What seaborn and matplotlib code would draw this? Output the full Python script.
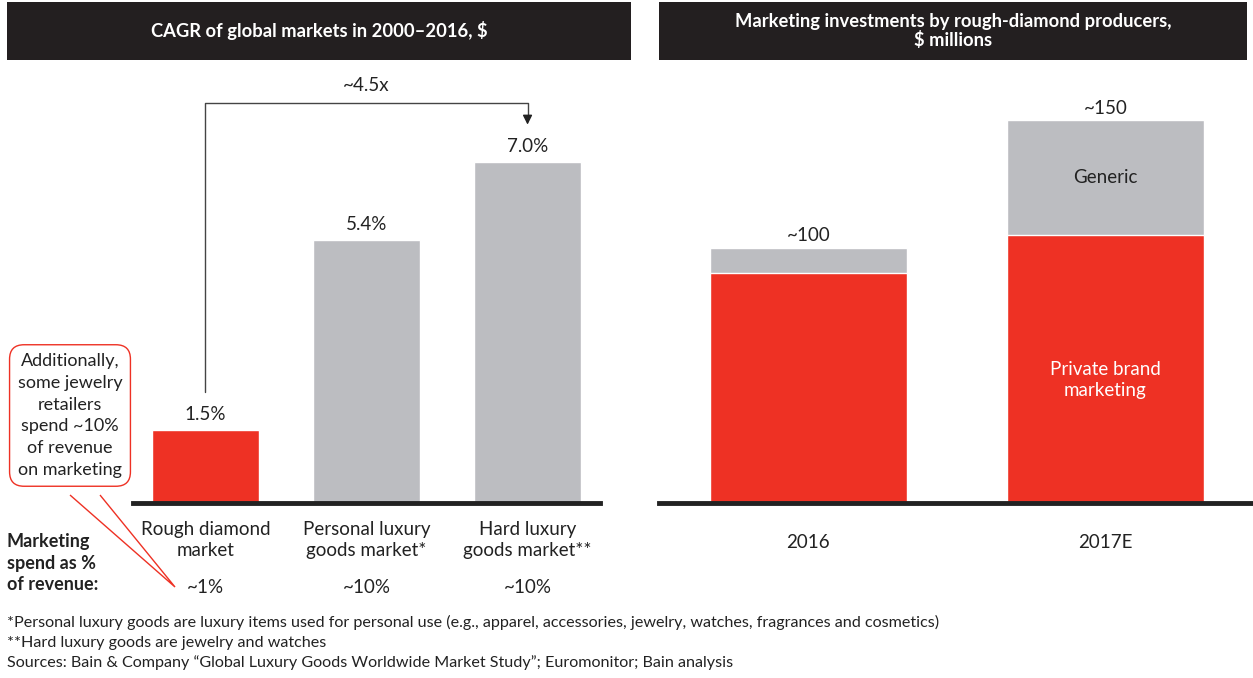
import matplotlib.pyplot as plt
import seaborn as sns
from matplotlib.patches import Rectangle, Polygon

RED = "#EE3124"
GRAY = "#BCBDC1"
DARK = "#231F20"

# left panel data
markets = ["Rough diamond\nmarket", "Personal luxury\ngoods market*", "Hard luxury\ngoods market**"]
cagr = [1.5, 5.4, 7.0]
cagr_labels = ["1.5%", "5.4%", "7.0%"]
spend_labels = ["~1%", "~10%", "~10%"]

# right panel data
years = ["2016", "2017E"]
private_brand = [90, 105]
generic = [10, 45]
total_labels = ["~100", "~150"]

W, H = 1253, 678
FS = 13.5


def fx(x):
    return x / W


def fy(y):
    return 1 - y / H


sns.set_theme(style="white")
plt.rcParams["font.family"] = ["Lato", "DejaVu Sans"]
fig = plt.figure(figsize=(W / 100, H / 100), dpi=100)

# title bars
for x0, x1, title in [(7, 631, "CAGR of global markets in 2000\u20132016, $"),
                      (659, 1247, "Marketing investments by rough-diamond producers,\n$ millions")]:
    fig.add_artist(Rectangle((fx(x0), fy(60)), fx(x1 - x0), 58 / H, transform=fig.transFigure,
                             facecolor=DARK, edgecolor="none"))
    fig.text(fx((x0 + x1) / 2), fy(31), title, ha="center", va="center", color="white",
             fontsize=13.2, fontweight="bold", linespacing=1.1)

# left chart
ax1 = fig.add_axes([fx(133), fy(503), fx(600 - 133), (503 - 70) / H])
sns.barplot(x=markets, y=cagr, hue=markets, palette=[RED, GRAY, GRAY], legend=False,
            width=0.66, saturation=1, ax=ax1)
ax1.set_xlim(-0.45, 2.45)
ax1.set_ylim(0, 8.9)
for i, (v, lab) in enumerate(zip(cagr, cagr_labels)):
    ax1.text(i, v + 0.15, lab, ha="center", va="bottom", fontsize=FS, color="#222222")
for i, lab in enumerate(spend_labels):
    ax1.annotate(lab, xy=(i, -0.194), xycoords=("data", "axes fraction"), ha="center",
                 va="center", fontsize=FS, color="#222222", annotation_clip=False)

# ~4.5x bracket
ax1.plot([0, 0, 2, 2], [2.28, 8.23, 8.23, 7.9], color="#444444", lw=1, clip_on=False)
ax1.annotate("", xy=(2, 7.72), xytext=(2, 8.0),
             arrowprops=dict(arrowstyle="-|>", color="#222222", lw=1, mutation_scale=14))
ax1.text(1, 8.58, "~4.5x", ha="center", va="center", fontsize=FS, color="#222222")

# right chart
ax2 = fig.add_axes([fx(659), fy(503), fx(1253 - 659), (503 - 70) / H])
totals = [p + g for p, g in zip(private_brand, generic)]
sns.barplot(x=years, y=totals, color=GRAY, width=0.663, saturation=1, ax=ax2)
sns.barplot(x=years, y=private_brand, color=RED, width=0.663, saturation=1, ax=ax2,
            edgecolor="white", linewidth=1)
ax2.set_xlim(-0.503, 1.497)
ax2.set_ylim(0, 169.8)
for i, (t, lab) in enumerate(zip(totals, total_labels)):
    ax2.text(i, t + 1.5, lab, ha="center", va="bottom", fontsize=FS, color="#222222")
ax2.text(1, private_brand[1] + generic[1] / 2, "Generic", ha="center", va="center",
         fontsize=FS, color="#222222")
ax2.text(1, private_brand[1] * 0.46, "Private brand\nmarketing", ha="center", va="center",
         fontsize=FS, color="white", linespacing=1.25)

for ax in (ax1, ax2):
    sns.despine(ax=ax, left=True)
    ax.spines["bottom"].set_linewidth(3.5)
    ax.spines["bottom"].set_color("#222222")
    ax.set_yticks([])
    ax.set_ylabel("")
    ax.set_xlabel("")
    ax.tick_params(axis="x", length=0, pad=13, labelsize=FS, colors="#222222")
    ax.patch.set_alpha(0)
for lab in ax1.get_xticklabels():
    lab.set_linespacing(1.3)
ax2.tick_params(axis="x", pad=22)

# marketing spend row header
fig.text(fx(7), fy(563), "Marketing\nspend as %\nof revenue:", ha="left", va="center",
         fontsize=13, fontweight="bold", color="#222222", linespacing=1.3)

# callout
fig.text(fx(70), fy(415.5), "Additionally,\nsome jewelry\nretailers\nspend ~10%\nof revenue\non marketing",
         ha="center", va="center", fontsize=13, color="#222222", linespacing=1.45,
         bbox=dict(boxstyle="round,pad=0.45,rounding_size=0.8", facecolor="white", edgecolor=RED, lw=1))
fig.add_artist(Polygon([(fx(70), fy(495)), (fx(175), fy(587)), (fx(100), fy(495))], closed=False,
                       transform=fig.transFigure, facecolor="white", edgecolor=RED, lw=1))

# footnotes
notes = ["*Personal luxury goods are luxury items used for personal use (e.g., apparel, accessories, jewelry, watches, fragrances and cosmetics)",
         "**Hard luxury goods are jewelry and watches",
         "Sources: Bain & Company \u201cGlobal Luxury Goods Worldwide Market Study\u201d; Euromonitor; Bain analysis"]
for k, note in enumerate(notes):
    fig.text(fx(7), fy(622 + 20.5 * k), note, ha="left", va="center", fontsize=11.6, color="#222222")

fig.savefig("out.png", dpi=100)
